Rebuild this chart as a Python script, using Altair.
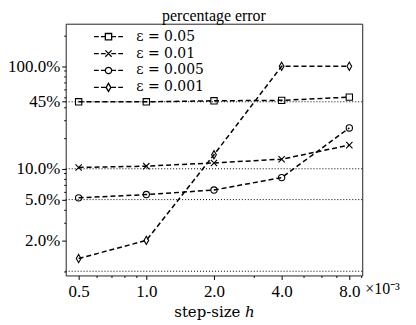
import altair as alt
import pandas as pd

# ---- data ----
h_vals = [0.5, 1.0, 2.0, 4.0, 8.0]
err_005 = [45.0, 45.0, 46.0, 46.5, 50.0]
err_001 = [10.3, 10.6, 11.4, 12.4, 17.0]
err_0005 = [5.2, 5.6, 6.2, 8.2, 25.0]
err_0001 = [1.33, 2.0, 13.7, 100.0, 100.0]
series_labels = ["ε = 0.05", "ε = 0.01", "ε = 0.005", "ε = 0.001"]
ref_lines = [1, 5, 10, 45]

x_major = [0.5, 1, 2, 4, 8]
x_minor = [0.6, 0.7, 0.8, 0.9, 3, 5, 6, 7, 9]
y_major = [2, 5, 10, 45, 100]
y_minor = [1, 3, 4, 6, 7, 8, 9, 20, 30, 40, 50, 60, 70, 80, 90, 200]

rows = []
for lab, vals in zip(series_labels, [err_005, err_001, err_0005, err_0001]):
    for h, v in zip(h_vals, vals):
        rows.append({"h": h, "err": v, "series": lab})
df = pd.DataFrame(rows)
ref_df = pd.DataFrame({"y": ref_lines})

FONT = "Liberation Serif, Times New Roman, serif"
FONT2 = "DejaVu Serif, serif"

# marker shapes
sq = "M-1,-1H1V1H-1Z"
xx = "M-1,-1L1,1M-1,1L1,-1"
ci = "M1,0A1,1,0,1,1,-1,0A1,1,0,1,1,1,0Z"
di = "M0,-1.3L0.75,0L0,1.3L-0.75,0Z"
plot_shapes = [sq, xx, ci, di]
dashes = "M-4.6,0H-3.1M-2.4,0H-0.9M0.9,0H2.4M3.1,0H4.6"
legend_shapes = [dashes + s for s in plot_shapes]

W, H = 298, 253

xmaj = "indexof([0.5,1,2,4,8], datum.value) >= 0"
ymaj = "indexof([2,5,10,45,100], datum.value) >= 0"

x_scale = alt.Scale(type="log", domain=[0.438, 9.13], nice=False)
y_scale = alt.Scale(type="log", domain=[0.91, 260], nice=False)

x_axis = alt.Axis(
    values=x_major + x_minor,
    labelExpr=f"{xmaj} ? format(datum.value, '.1f') : ''",
    tickSize={"condition": {"test": xmaj, "value": 4}, "value": 2},
    title="step-size ℎ",
    grid=False, domain=False,
    labelFont=FONT, labelFontSize=17, labelColor="black", labelPadding=4,
    titleFont=FONT2, titleFontSize=15, titleFontWeight="normal", titleColor="black",
    titlePadding=5, tickColor="black", labelFlush=False, labelOverlap=False,
)
y_axis = alt.Axis(
    values=y_major + y_minor,
    labelExpr=f"{ymaj} ? (datum.value == 45 ? '45%' : format(datum.value, '.1f') + '%') : ''",
    tickSize={"condition": {"test": ymaj, "value": 4}, "value": 2},
    title=None,
    grid=False, domain=False,
    labelFont=FONT, labelFontSize=17, labelColor="black", labelPadding=2,
    tickColor="black", labelOverlap=False, labelFlush=False,
)

base = alt.Chart(df)

rules = alt.Chart(ref_df).mark_rule(
    color="black", strokeDash=[1, 2], strokeWidth=1
).encode(y=alt.Y("y:Q", scale=y_scale, axis=y_axis))

lines = base.mark_line(
    color="black", strokeDash=[5, 3], strokeWidth=1.5
).encode(
    x=alt.X("h:Q", scale=x_scale, axis=x_axis),
    y=alt.Y("err:Q", scale=y_scale, axis=y_axis),
    detail="series:N",
)

points = base.mark_point(
    color="black", filled=False, strokeWidth=1.1, size=40, opacity=1
).encode(
    x=alt.X("h:Q", scale=x_scale),
    y=alt.Y("err:Q", scale=y_scale),
    shape=alt.Shape("series:N", scale=alt.Scale(domain=series_labels, range=plot_shapes), legend=None),
)

legend_layer = base.transform_filter("false").mark_point(
    color="black", filled=False
).encode(
    x=alt.X("h:Q", scale=x_scale),
    y=alt.Y("err:Q", scale=y_scale),
    shape=alt.Shape(
        "series:N",
        scale=alt.Scale(domain=series_labels, range=legend_shapes),
        legend=alt.Legend(
            orient="none", legendX=36, legendY=6, title=None,
            labelFont=FONT2, labelFontSize=14, labelColor="black",
            symbolSize=40, symbolStrokeWidth=1.3, symbolStrokeColor="black",
            symbolFillColor="transparent", symbolOpacity=1,
            labelOffset=21, rowPadding=3, padding=0,
        ),
    ),
)

note = alt.Chart(pd.DataFrame({"t": ["×10⁻³"]})).mark_text(
    font=FONT, fontSize=16, align="left", baseline="alphabetic", color="black"
).encode(text="t:N", x=alt.value(W + 3), y=alt.value(H + 19))

chart = alt.layer(rules, lines, points, legend_layer, note).resolve_scale(
    shape="independent"
).properties(
    width=W, height=H,
    title=alt.TitleParams("percentage error", font=FONT, fontSize=16,
                          fontWeight="normal", color="black", offset=0),
    autosize=alt.AutoSizeParams(type="none"),
    padding={"left": 58, "top": 15, "right": 46, "bottom": 48},
).configure_view(stroke="#222", strokeWidth=1)

chart.save("out.html", embed_options={"renderer": "svg", "actions": False})
